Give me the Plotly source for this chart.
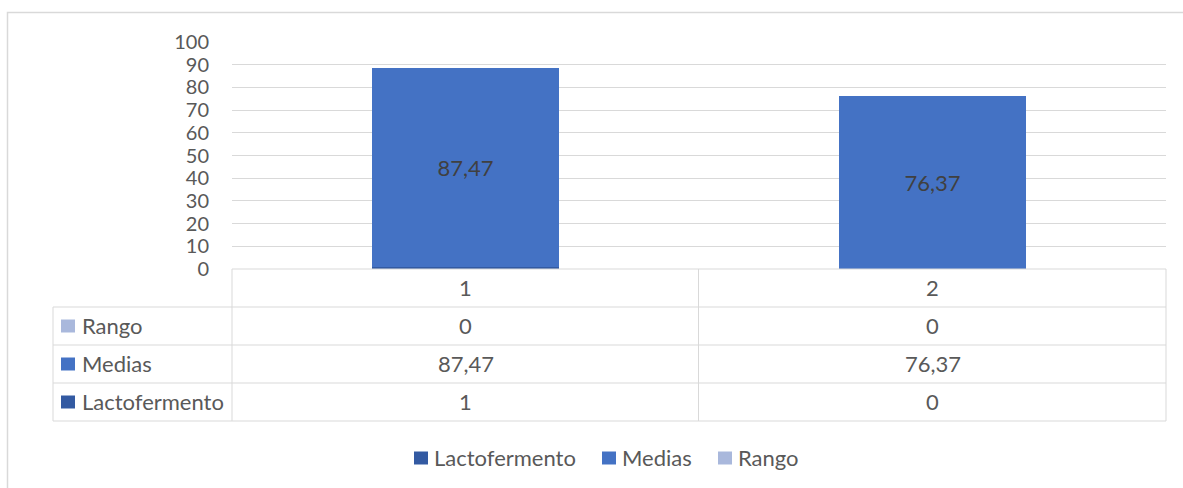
import plotly.graph_objects as go

# Data
categorias = ["1", "2"]
lactofermento = [1, 0]
medias = [87.47, 76.37]
rango = [0, 0]

series_names = ["Lactofermento", "Medias", "Rango"]
series_colors = ["#335AA2", "#4472C4", "#A9B8DC"]
y_ticks = [0, 10, 20, 30, 40, 50, 60, 70, 80, 90, 100]

W, H = 1183, 488
L, R, T, B = 232, 1166, 42, 269   # plot area in page pixels
FONT = "Lato"
FS = 22
TXT = "#595959"
GRID = "#D9D9D9"


def px(x):
    return (x - L) / (R - L)


def py(y):
    return (B - y) / (B - T)


def fmt(v):
    s = f"{v:.2f}" if isinstance(v, float) else str(v)
    return s.replace(".", ",")


fig = go.Figure()
for name, vals, col in zip(series_names, [lactofermento, medias, rango], series_colors):
    fig.add_bar(
        x=categorias, y=vals, name=name, marker=dict(color=col, line=dict(width=0)),
        width=0.4, showlegend=False,
        texttemplate="%{y:.2f}" if name == "Medias" else None,
        textposition="inside" if name == "Medias" else "none",
        insidetextanchor="middle", textangle=0, constraintext="none",
        textfont=dict(family=FONT, size=FS, color="#404040"),
    )

shapes = []
line = dict(color=GRID, width=1)
# chart border
shapes.append(dict(type="rect", xref="paper", yref="paper",
                   x0=px(7.5), x1=px(1195), y0=py(12.5), y1=py(500),
                   line=dict(color="#D9D9D9", width=1.5), layer="below"))
# data table grid
rows_y = [269, 307, 345, 383, 421]
for i, yy in enumerate(rows_y):
    x0 = 232 if i == 0 else 53
    shapes.append(dict(type="line", xref="paper", yref="paper",
                       x0=px(x0), x1=px(1166), y0=py(yy), y1=py(yy), line=line))
for xx in [232, 698.5, 1166]:
    shapes.append(dict(type="line", xref="paper", yref="paper",
                       x0=px(xx), x1=px(xx), y0=py(269), y1=py(421), line=line))
shapes.append(dict(type="line", xref="paper", yref="paper",
                   x0=px(53), x1=px(53), y0=py(307), y1=py(421), line=line))

annotations = []
font = dict(family=FONT, size=FS, color=TXT)
# header row with category names
for i, c in enumerate(categorias):
    annotations.append(dict(x=i, xref="x", y=py(287), yref="paper", text=c,
                            xanchor="center", yanchor="middle", showarrow=False, font=font))
# series rows (top to bottom: Rango, Medias, Lactofermento)
table_rows = [("Rango", rango, series_colors[2]),
              ("Medias", medias, series_colors[1]),
              ("Lactofermento", lactofermento, series_colors[0])]
for r, (name, vals, col) in enumerate(table_rows):
    top, bot = rows_y[r + 1], rows_y[r + 2]
    mid = (top + bot) / 2
    shapes.append(dict(type="rect", xref="paper", yref="paper",
                       x0=px(61), x1=px(75), y0=py(mid - 6.5), y1=py(mid + 6.5),
                       fillcolor=col, line=dict(width=0)))
    annotations.append(dict(x=px(80), xref="paper", y=py(mid - 1), yref="paper", text=name,
                            xanchor="left", yanchor="middle", showarrow=False, font=font))
    for i, v in enumerate(vals):
        annotations.append(dict(x=i, xref="x", y=py(mid - 1), yref="paper", text=fmt(v),
                                xanchor="center", yanchor="middle", showarrow=False, font=font))

# legend along the bottom
legend_x = [414, 602, 718]
leg_y = 458
for name, col, lx in zip(series_names, series_colors, legend_x):
    shapes.append(dict(type="rect", xref="paper", yref="paper",
                       x0=px(lx), x1=px(lx + 14), y0=py(leg_y - 6.5), y1=py(leg_y + 6.5),
                       fillcolor=col, line=dict(width=0)))
    annotations.append(dict(x=px(lx + 18), xref="paper", y=py(leg_y - 1), yref="paper", text=name,
                            xanchor="left", yanchor="middle", showarrow=False, font=font))

fig.update_layout(
    width=W, height=H, barmode="stack", separators=",.",
    margin=dict(l=L, r=W - R, t=T, b=H - B, pad=0),
    paper_bgcolor="white", plot_bgcolor="white",
    font=font, showlegend=False,
    shapes=shapes, annotations=annotations,
    xaxis=dict(type="category", range=[-0.5, 1.5], showticklabels=False, showgrid=False,
               zeroline=False, showline=False, ticks=""),
    yaxis=dict(range=[0, 100], tickvals=y_ticks, showgrid=True, gridcolor=GRID, gridwidth=1,
               zeroline=False, showline=False, ticks="", ticklabelstandoff=22,
               tickfont=dict(family=FONT, size=20, color=TXT)),
    uniformtext=dict(mode=False),
)

fig.write_html("out.html")
